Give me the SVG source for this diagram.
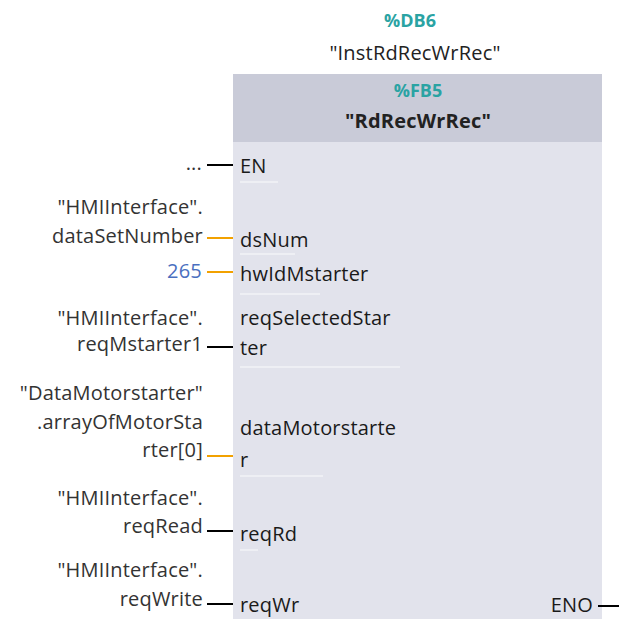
<svg xmlns="http://www.w3.org/2000/svg" width="619" height="619" viewBox="0 0 619 619">
<style>
text{font-family:"Open Sans","DejaVu Sans",sans-serif;font-size:20px;letter-spacing:0.2px;}
.t{fill:#2aa3a3;font-weight:bold;text-anchor:middle;font-size:18px;letter-spacing:0;}
.n{fill:#222;text-anchor:middle;}
.p{fill:#1a1a1a;}
.l{fill:#333;text-anchor:end;}
.c{fill:#4a6fc0;text-anchor:end;}
.sep{stroke:#f2f3f7;stroke-width:1.5;}
.wb{stroke:#000;stroke-width:2;}
.wo{stroke:#f2a100;stroke-width:2;}
</style>
<rect width="619" height="619" fill="#fff"/>
<g id="block">
<rect x="233" y="74" width="369" height="545" fill="#e2e3ec"/>
<rect x="233" y="74" width="369" height="68" fill="#c9cbd8"/>
<text class="t" x="410" y="27">%DB6</text>
<text class="n" x="415" y="60">"InstRdRecWrRec"</text>
<text class="t" x="418" y="97">%FB5</text>
<text class="n" x="418" y="128" font-weight="bold" font-size="19">"RdRecWrRec"</text>
</g>
<g id="pins">
<text class="p" x="240" y="173">EN</text>
<line class="sep" x1="240" y1="182" x2="278" y2="182"/>
<text class="p" x="240" y="247">dsNum</text>
<line class="sep" x1="240" y1="254" x2="295" y2="254"/>
<text class="p" x="240" y="281">hwIdMstarter</text>
<line class="sep" x1="240" y1="294" x2="320" y2="294"/>
<text class="p" x="240" y="325">reqSelectedStar</text>
<text class="p" x="240" y="355">ter</text>
<line class="sep" x1="240" y1="367" x2="400" y2="367"/>
<text class="p" x="240" y="435">dataMotorstarte</text>
<text class="p" x="240" y="467">r</text>
<line class="sep" x1="240" y1="476" x2="323" y2="476"/>
<text class="p" x="240" y="541">reqRd</text>
<line class="sep" x1="240" y1="550" x2="258" y2="550"/>
<text class="p" x="240" y="612">reqWr</text>
<text class="p" x="593" y="612" text-anchor="end">ENO</text>
</g>
<g id="operands">
<text class="l" x="202" y="170">...</text>
<text class="l" x="203" y="214">"HMIInterface".</text>
<text class="l" x="203" y="243">dataSetNumber</text>
<text class="c" x="202" y="278">265</text>
<text class="l" x="203" y="325">"HMIInterface".</text>
<text class="l" x="203" y="351">reqMstarter1</text>
<text class="l" x="203" y="400">"DataMotorstarter"</text>
<text class="l" x="203" y="429">.arrayOfMotorSta</text>
<text class="l" x="203" y="457">rter[0]</text>
<text class="l" x="203" y="505">"HMIInterface".</text>
<text class="l" x="203" y="533">reqRead</text>
<text class="l" x="203" y="577">"HMIInterface".</text>
<text class="l" x="203" y="606">reqWrite</text>
</g>
<g id="connectors">
<line class="wb" x1="207" y1="165" x2="233" y2="165"/>
<line class="wo" x1="207" y1="238" x2="233" y2="238"/>
<line class="wo" x1="207" y1="272" x2="233" y2="272"/>
<line class="wb" x1="207" y1="347" x2="233" y2="347"/>
<line class="wo" x1="207" y1="456" x2="233" y2="456"/>
<line class="wb" x1="207" y1="531" x2="233" y2="531"/>
<line class="wb" x1="207" y1="604" x2="233" y2="604"/>
<line class="wb" x1="598" y1="606" x2="619" y2="606"/>
</g>
</svg>
